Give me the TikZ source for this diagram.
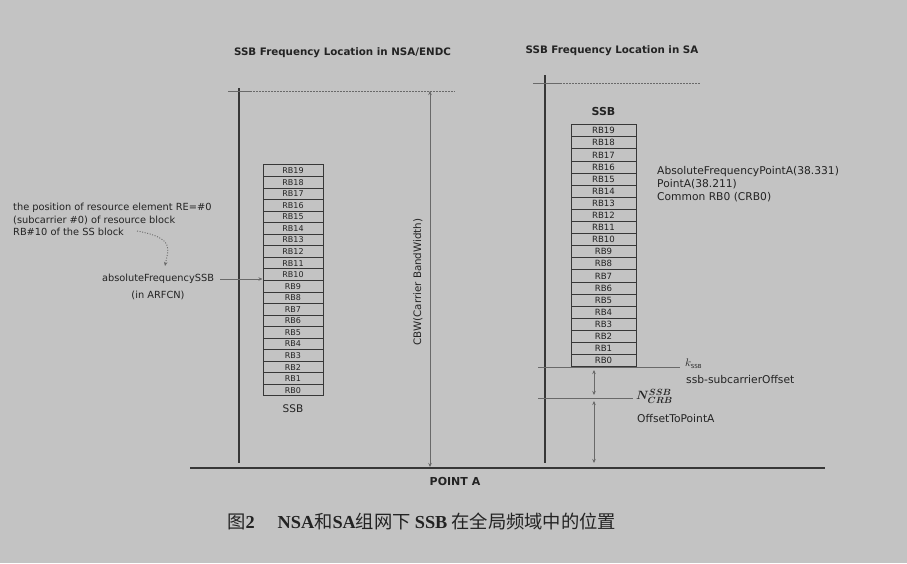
\documentclass[tikz,border=0pt]{standalone}
\usepackage{fontspec}
\setmainfont{DejaVu Sans}
\newfontfamily\cjk{Noto Sans CJK SC}
\newfontfamily\capserif{Liberation Serif}
\usetikzlibrary{arrows.meta}
\definecolor{bg}{RGB}{195,195,195}
\definecolor{ink}{RGB}{35,35,35}
\definecolor{lineg}{RGB}{55,55,55}
\definecolor{lightg}{RGB}{105,105,105}
\tikzset{
  rbl/.style={draw=lineg, line width=1pt, minimum width=60pt, minimum height=11.55pt, inner sep=0pt, font=\fontsize{8}{9}\selectfont, text=ink},
  rbr/.style={draw=lineg, line width=1pt, minimum width=65pt, minimum height=12.1pt, inner sep=0pt, font=\fontsize{8.6}{9}\selectfont, text=ink},
  ttl/.style={font=\fontsize{10.3}{12}\selectfont\bfseries, text=ink, inner sep=0pt},
  lbl/.style={font=\fontsize{9.8}{11}\selectfont, text=ink, inner sep=0pt},
  rlbl/.style={font=\fontsize{10.7}{12}\selectfont, text=ink, inner sep=0pt, anchor=west},
  axisln/.style={draw=lineg, line width=1.1pt},
  tickln/.style={draw=lightg, line width=0.9pt},
  dashln/.style={draw=lightg, line width=0.7pt, dash pattern=on 1.5pt off 1.5pt},
  thinline/.style={draw=lightg, line width=0.7pt},
  darr/.style={draw=lightg, line width=0.8pt, {Stealth[length=4pt,width=3.5pt]}-{Stealth[length=4pt,width=3.5pt]}},
  sarr/.style={draw=lightg, line width=0.8pt, -{Stealth[length=4pt,width=3.5pt]}},
}
\begin{document}
\begin{tikzpicture}[x=1pt,y=-1pt]
\fill[bg] (0,0) rectangle (907,563);
\useasboundingbox (0,0) rectangle (907,563);

% titles
\node[ttl] (t1) at (342.5,53) {SSB Frequency Location in NSA/ENDC};
\node[ttl] (t2) at (612,51) {SSB Frequency Location in SA};

% left axis
\coordinate (laxt) at (239,88);
\coordinate (laxb) at (239,463);
\draw[axisln] (laxt) -- (laxb);
\coordinate (ltk1) at (228,91);
\coordinate (ltk2) at (250,91);
\coordinate (ltk3) at (455,91);
\draw[tickln] (ltk1) -- (ltk2);
\draw[dashln] (ltk2) -- (ltk3);

% CBW arrow
\coordinate (cbwt) at (430,91);
\coordinate (cbwb) at (430,467);
\draw[darr] (cbwt) -- (cbwb);
\node[lbl, font=\fontsize{10.3}{12}\selectfont, rotate=90] (cbw) at (418,282) {CBW(Carrier BandWidth)};

% bottom line
\coordinate (bl1) at (190,468);
\coordinate (bl2) at (825,468);
\draw[axisln, line width=1.3pt] (bl1) -- (bl2);
\node[font=\fontsize{11}{13}\selectfont\bfseries, text=ink, inner sep=0pt] (pa) at (455,481) {POINT A};

% left stack
\foreach \i in {0,...,19}{
  \node[rbl] (l\i) at (293,{390.2-11.55*\i}) {RB\i};
}
\node[lbl, font=\fontsize{10.5}{12}\selectfont] (lssb) at (293,409) {SSB};

% left annotations
\node[lbl, anchor=west] (a1) at (13,208) {the position of resource element RE=\#0};
\node[lbl, anchor=west] (a2) at (13,220) {(subcarrier \#0) of resource block};
\node[lbl, anchor=west] (a3) at (13,232) {RB\#10 of the SS block};
\node[lbl] (afs) at (158,279) {absoluteFrequencySSB};
\node[lbl] (arf) at (158,295) {(in ARFCN)};
\draw[sarr] (afs.east) ++(6,0) coordinate (afe) -- (afe -| l10.west);
\coordinate (dc1) at (137,231);
\coordinate (dc2) at (165,266);
\draw[draw=lightg, line width=0.9pt, dash pattern=on 1pt off 1.6pt, -{Stealth[length=4pt,width=3.5pt]}] (dc1) .. controls (176,238) and (168,250) .. (dc2);

% right axis
\coordinate (raxt) at (545,75);
\coordinate (raxb) at (545,463);
\draw[axisln] (raxt) -- (raxb);
\coordinate (rtk1) at (533,83);
\coordinate (rtk2) at (560,83);
\coordinate (rtk3) at (700,83);
\draw[tickln] (rtk1) -- (rtk2);
\draw[dashln] (rtk2) -- (rtk3);

% right stack
\foreach \i in {0,...,19}{
  \node[rbr] (r\i) at (603.5,{360.65-12.1*\i}) {RB\i};
}
\node[font=\fontsize{11}{13}\selectfont\bfseries, text=ink, inner sep=0pt] (rssb) at (603.5,111) {SSB};

% right annotations
\node[rlbl] (p1) at (657,172) {AbsoluteFrequencyPointA(38.331)};
\node[rlbl] (p2) at (657,184) {PointA(38.211)};
\node[rlbl] (p3) at (657,197) {Common RB0 (CRB0)};

% offsets
\coordinate (k1) at (538,367);
\coordinate (k2) at (680,367);
\draw[thinline] (k1) -- (k2);
\coordinate (n1) at (538,398);
\coordinate (n2) at (633,398);
\draw[thinline] (n1) -- (n2);
\coordinate (ka) at (594,370);
\coordinate (kb) at (594,395);
\draw[darr] (ka) -- (kb);
\coordinate (na) at (594,401);
\coordinate (nb) at (594,463);
\draw[darr] (na) -- (nb);
\node[rlbl, font=\fontsize{11}{12}\selectfont] (klab) at (685,364) {$k_{\scriptscriptstyle\mathrm{SSB}}$};
\node[rlbl] (ssbo) at (686,380) {ssb-subcarrierOffset};
\node[rlbl, font=\fontsize{12.5}{14}\selectfont\boldmath] (nlab) at (636,396) {$N^{SSB}_{CRB}$};
\node[rlbl] (otp) at (637,419) {OffsetToPointA};

% caption
\node[anchor=west, inner sep=0pt, text=ink, font=\fontsize{18.3}{21}\selectfont] (cap) at (227,521)
  {{\cjk 图}{\capserif\bfseries 2}\hspace{23pt}{\capserif\bfseries NSA}{\cjk 和}{\capserif\bfseries SA}{\cjk 组网下}\hspace{4pt}{\capserif\bfseries SSB}\hspace{4pt}{\cjk 在全局频域中的位置}};
\end{tikzpicture}
\end{document}
